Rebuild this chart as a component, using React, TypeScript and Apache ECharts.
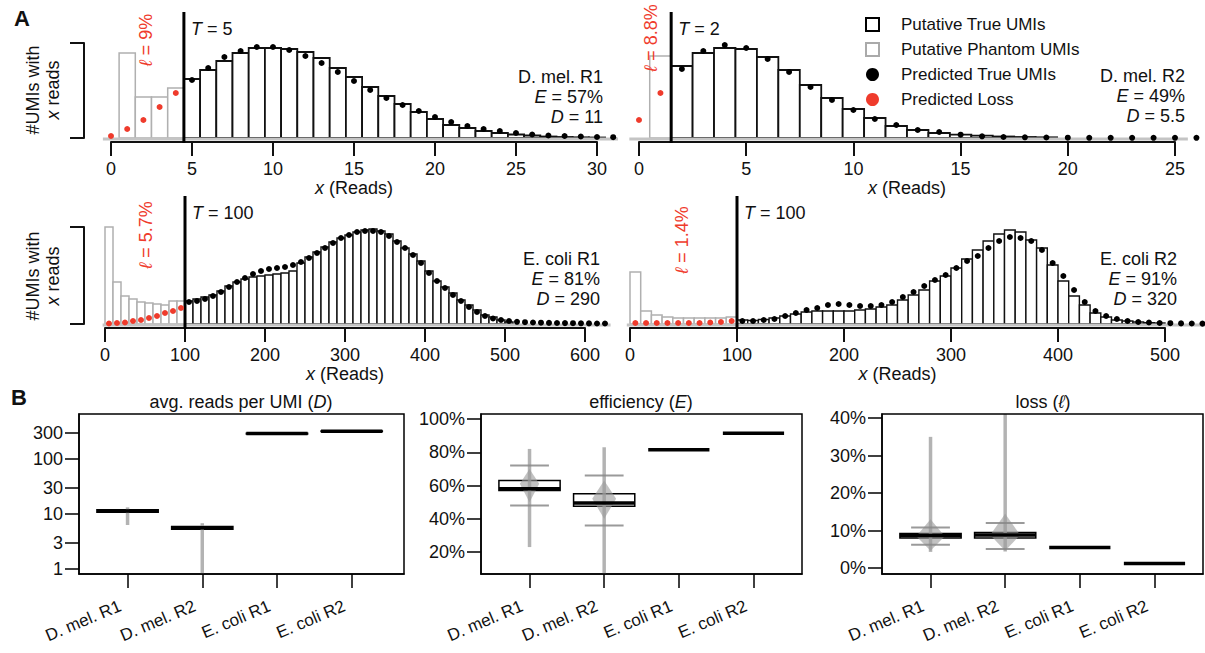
import React, { useEffect, useRef } from 'react';
import * as echarts from 'echarts';

const FONT = "'Liberation Sans', Arial, Helvetica, sans-serif";
const RED = '#ef3b2c';
const GREY = '#b0b0b0';
const INK = '#111111';
const WHISK = '#9a9a9a';

// ---------- Panel A1: D. mel. R1 ----------
const dm1TrueX = [5, 6, 7, 8, 9, 10, 11, 12, 13, 14, 15, 16, 17, 18, 19, 20, 21, 22, 23, 24, 25, 26, 27, 28, 29, 30];
const dm1TrueH = [59, 68, 77, 85, 90, 90, 89, 86, 80, 70, 61, 51, 42, 34, 26, 19, 13, 10, 7, 5, 3.5, 2.5, 1.5, 1, 0.7, 0.5];
const dm1PhantomX = [1, 2, 3, 4];
const dm1PhantomH = [85, 41, 41, 50];
const dm1LossX = [0, 1, 2, 3, 4];
const dm1LossH = [2, 9, 18, 31, 45];
const dm1PredX = [5, 6, 7, 8, 9, 10, 11, 12, 13, 14, 15, 16, 17, 18, 19, 20, 21, 22, 23, 24, 25, 26, 27, 28, 29, 30, 31];
const dm1PredH = [58, 70, 81, 87, 91, 91, 88, 82, 75, 66, 57, 48, 40, 33, 27, 21, 16, 12, 9, 7, 5, 3.5, 2.5, 2, 1.5, 1, 0.8];

// ---------- Panel A2: D. mel. R2 ----------
const dm2TrueX = [2, 3, 4, 5, 6, 7, 8, 9, 10, 11, 12, 13, 14, 15, 16, 17, 18, 19];
const dm2TrueH = [72, 85, 90, 89, 81, 68, 53, 40, 29, 20, 12, 8, 5, 3.3, 2.3, 1.5, 1, 0.7];
const dm2PhantomX = [1];
const dm2PhantomH = [82];
const dm2LossX = [0, 1];
const dm2LossH = [18, 45];
const dm2PredX = [2, 3, 4, 5, 6, 7, 8, 9, 10, 11, 12, 13, 14, 15, 16, 17, 18, 19, 20, 21, 22, 23, 24, 25, 26];
const dm2PredH = [69, 87, 93, 90, 79, 66, 51, 38, 28, 19, 13, 8, 6, 3.3, 1.7, 1, 0.7, 0.5, 0.3, 0.2, 0.2, 0.2, 0.2, 0.2, 0.2];

// ---------- Panel A3: E. coli R1 (bins of 10 reads, centres) ----------
const ec1PhantomX = [5, 15, 25, 35, 45, 55, 65, 75, 85, 95];
const ec1PhantomH = [150, 42, 28, 25, 22, 21, 20, 19, 23, 23];
const ec1LossX = [5, 15, 25, 35, 45, 55, 65, 75, 85, 95];
const ec1LossH = [0.5, 1, 1.5, 3, 4, 6, 8, 11, 13, 16];
const ec1TrueX = [105, 115, 125, 135, 145, 155, 165, 175, 185, 195, 205, 215, 225, 235, 245, 255, 265, 275, 285, 295, 305, 315, 325, 335, 345, 355, 365, 375, 385, 395, 405, 415, 425, 435, 445, 455, 465, 475, 485, 495, 505];
const ec1TrueH = [23, 25, 27, 29, 33, 38, 42, 45, 47, 48, 49, 50, 51, 53, 61, 67, 72, 77, 82, 86, 89, 92, 94, 95, 93, 90, 83, 76, 70, 63, 53, 43, 37, 31, 24, 19, 14, 9, 7, 4, 2];
const ec1PredX = [105, 115, 125, 135, 145, 155, 165, 175, 185, 195, 205, 215, 225, 235, 245, 255, 265, 275, 285, 295, 305, 315, 325, 335, 345, 355, 365, 375, 385, 395, 405, 415, 425, 435, 445, 455, 465, 475, 485, 495, 505, 515, 525, 535, 545, 555, 565, 575, 585, 595, 605, 615, 625];
const ec1PredH = [22, 23, 25, 28, 32, 37, 42, 46, 50, 53, 55, 56, 57, 59, 62, 66, 71, 76, 81, 86, 89, 92, 93, 93, 92, 88, 82, 76, 69, 61, 51, 43, 36, 29, 23, 17, 12, 8, 5.5, 4, 3, 2.2, 1.8, 1.5, 1.3, 1.1, 1, 0.9, 0.8, 0.7, 0.6, 0.5, 0.5];

// ---------- Panel A4: E. coli R2 ----------
const ec2PhantomX = [5, 15, 25, 35, 45, 55, 65, 75, 85, 95];
const ec2PhantomH = [52, 13, 9, 7, 6, 6, 6, 6, 6, 7];
const ec2LossX = [5, 15, 25, 35, 45, 55, 65, 75, 85, 95];
const ec2LossH = [1, 1, 1, 1, 1, 1, 1, 1.5, 2, 3];
const ec2TrueX = [105, 115, 125, 135, 145, 155, 165, 175, 185, 195, 205, 215, 225, 235, 245, 255, 265, 275, 285, 295, 305, 315, 325, 335, 345, 355, 365, 375, 385, 395, 405, 415, 425, 435, 445, 455, 465, 475, 485, 495];
const ec2TrueH = [4, 3.5, 4.5, 6, 8, 10, 12, 13, 13, 13, 13, 14, 15, 17, 19, 24, 29, 34, 43, 48, 56, 65, 74, 83, 90, 94, 92, 84, 76, 59, 43, 28, 19, 11, 7, 4, 3, 2, 1.3, 1];
const ec2PredX = [105, 115, 125, 135, 145, 155, 165, 175, 185, 195, 205, 215, 225, 235, 245, 255, 265, 275, 285, 295, 305, 315, 325, 335, 345, 355, 365, 375, 385, 395, 405, 415, 425, 435, 445, 455, 465, 475, 485, 495, 505, 515, 525, 535, 545];
const ec2PredH = [3, 3, 4, 5, 8, 11, 14, 16, 19, 20, 19, 18, 18, 19, 22, 27, 32, 38, 44, 49, 56, 63, 68, 76, 83, 87, 86, 83, 74, 61, 48, 34, 22, 13, 8, 5, 3, 2, 1.5, 1, 0.8, 0.6, 0.5, 0.4, 0.3];

// ---------- Panel B ----------
const boxCats = ['D. mel. R1', 'D. mel. R2', 'E. coli R1', 'E. coli R2'];
const dTickVals = [1, 3, 10, 30, 100, 300];
const eTickVals = [20, 40, 60, 80, 100];
const lTickVals = [0, 10, 20, 30, 40];

// avg reads per UMI (D)
const dMed = [11.3, 5.6, 290, 320];
const dQ1 = [10.7, 5.3, 286, 316];
const dQ3 = [12.0, 5.9, 294, 324];
const dLo = [6.3, 0.5, null, null];
const dHi = [13.2, 6.8, null, null];

// efficiency (E), %
const eMed = [58, 49.5, 81.5, 91.5];
const eQ1 = [57, 47.5, 81.5, 91.5];
const eQ3 = [63, 55, 81.5, 91.5];
const eCapLo = [48, 36, null, null];
const eCapHi = [72, 66, null, null];
const eLo = [23, 6, null, 90.7];
const eHi = [82, 83, null, 92.1];
const eVioLo = [50, 40, null, null];
const eVioPeak = [61, 52, null, null];
const eVioHi = [70, 63, null, null];
const eVioHalf = [0.13, 0.16, null, null];

// loss (l), %
const lMed = [8.7, 8.8, 5.5, 1.2];
const lQ1 = [8.0, 8.0, 5.5, 1.2];
const lQ3 = [9.2, 9.5, 5.5, 1.2];
const lCapLo = [6.2, 5.1, null, null];
const lCapHi = [10.8, 12.0, null, null];
const lLo = [4.3, 4.4, null, null];
const lHi = [35, 45, null, null];
const lVioLo = [4.6, 4.6, null, null];
const lVioPeak = [8.5, 8.8, null, null];
const lVioHi = [13, 14.5, null, null];
const lVioHalf = [0.19, 0.2, null, null];

const pairs = (xs: number[], ys: number[]) => xs.map((x, i) => [x, ys[i]]);

const panels = [
  {
    grid: { left: 111, top: 43, width: 486, height: 95 }, xMax: 30, xInterval: 5, yMax: 95, binW: 1, lw: 1.8,
    bracketOffset: 27, tLine: 4.5, tText: '5', baseline: [-0.5, 31.3],
    trueX: dm1TrueX, trueH: dm1TrueH, phX: dm1PhantomX, phH: dm1PhantomH,
    lossX: dm1LossX, lossH: dm1LossH, predX: dm1PredX, predH: dm1PredH,
  },
  {
    grid: { left: 639, top: 43, width: 536, height: 95 }, xMax: 25, xInterval: 5, yMax: 95, binW: 1, lw: 1.8,
    bracketOffset: null, tLine: 1.5, tText: '2', baseline: [-0.45, 25.6],
    trueX: dm2TrueX, trueH: dm2TrueH, phX: dm2PhantomX, phH: dm2PhantomH,
    lossX: dm2LossX, lossH: dm2LossH, predX: dm2PredX, predH: dm2PredH,
  },
  {
    grid: { left: 105, top: 227, width: 480, height: 97 }, xMax: 600, xInterval: 100, yMax: 97, binW: 10, lw: 1.4,
    bracketOffset: 21, tLine: 100, tText: '100', baseline: [-3, 632],
    trueX: ec1TrueX, trueH: ec1TrueH, phX: ec1PhantomX, phH: ec1PhantomH,
    lossX: ec1LossX, lossH: ec1LossH, predX: ec1PredX, predH: ec1PredH,
  },
  {
    grid: { left: 630, top: 227, width: 535, height: 97 }, xMax: 500, xInterval: 100, yMax: 97, binW: 10, lw: 1.4,
    bracketOffset: null, tLine: 100, tText: '100', baseline: [-3, 548],
    trueX: ec2TrueX, trueH: ec2TrueH, phX: ec2PhantomX, phH: ec2PhantomH,
    lossX: ec2LossX, lossH: ec2LossH, predX: ec2PredX, predH: ec2PredH,
  },
];

const italic = (color: string, size = 18) => ({ i: { fontStyle: 'italic', fontSize: size, fontFamily: FONT, fill: color, color } });

function barSeries(name: string, k: number, xs: number[], ys: number[], binW: number, stroke: string, lw: number, z: number) {
  return {
    type: 'custom', name, xAxisIndex: k, yAxisIndex: k, clip: false, silent: true, z,
    data: pairs(xs, ys),
    renderItem: (params: any, api: any) => {
      const x = api.value(0);
      const v = api.value(1);
      const bl = api.coord([x - binW / 2, 0]);
      const tr = api.coord([x + binW / 2, v]);
      const top = Math.max(tr[1], params.coordSys.y);
      return {
        type: 'rect',
        shape: { x: bl[0], y: top, width: tr[0] - bl[0], height: bl[1] - top },
        style: { fill: '#ffffff', stroke, lineWidth: lw },
      };
    },
  };
}

function buildOption() {
  const grid: any[] = [];
  const xAxis: any[] = [];
  const yAxis: any[] = [];
  const series: any[] = [];

  panels.forEach((p, k) => {
    grid.push({ ...p.grid, show: false });
    xAxis.push({
      type: 'value', gridIndex: k, min: 0, max: p.xMax, interval: p.xInterval, offset: 4,
      axisLine: { show: true, onZero: false, lineStyle: { color: INK, width: 2 } },
      axisTick: { show: true, length: 14, lineStyle: { color: INK, width: 2 } },
      axisLabel: { show: true, margin: 18, fontSize: 18, fontFamily: FONT, color: INK },
      splitLine: { show: false },
      name: '{i|x} (Reads)', nameLocation: 'middle', nameGap: 35,
      nameTextStyle: { fontSize: 18, fontFamily: FONT, color: INK, rich: italic(INK) },
    });
    if (p.bracketOffset != null) {
      yAxis.push({
        type: 'value', gridIndex: k, min: 0, max: p.yMax, offset: p.bracketOffset,
        axisLine: { show: true, onZero: false, lineStyle: { color: INK, width: 2 } },
        axisTick: { show: true, length: 14, customValues: [0, p.yMax], lineStyle: { color: INK, width: 2 } },
        axisLabel: { show: false }, splitLine: { show: false },
      });
    } else {
      yAxis.push({ type: 'value', gridIndex: k, min: 0, max: p.yMax, show: false, splitLine: { show: false } });
    }

    series.push(barSeries('Putative Phantom UMIs', k, p.phX, p.phH, p.binW, GREY, 1.5, 2));
    series.push(barSeries('Putative True UMIs', k, p.trueX, p.trueH, p.binW, INK, p.lw, 2));
    // grey ground line
    series.push({
      type: 'custom', xAxisIndex: k, yAxisIndex: k, clip: false, silent: true, z: 3,
      data: [p.baseline],
      renderItem: (params: any, api: any) => {
        const a = api.coord([api.value(0), 0]);
        const b = api.coord([api.value(1), 0]);
        return { type: 'line', shape: { x1: a[0], y1: a[1] + 1, x2: b[0], y2: b[1] + 1 }, style: { stroke: '#c4c4c4', lineWidth: 3 } };
      },
    });
    // threshold line T
    series.push({
      type: 'custom', xAxisIndex: k, yAxisIndex: k, clip: false, silent: true, z: 4,
      data: [[p.tLine, 0]],
      renderItem: (params: any, api: any) => {
        const a = api.coord([api.value(0), 0]);
        const top = params.coordSys.y - 31;
        return {
          type: 'group',
          children: [
            { type: 'line', shape: { x1: a[0], y1: a[1] + 5, x2: a[0], y2: top }, style: { stroke: '#000', lineWidth: 3 } },
            {
              type: 'text', x: a[0] + 7, y: params.coordSys.y - 14,
              style: { text: '{i|T} = ' + p.tText, rich: italic(INK), fontSize: 18, fontFamily: FONT, fill: INK, align: 'left', verticalAlign: 'middle' },
            },
          ],
        };
      },
    });
    series.push({
      type: 'scatter', name: 'Predicted True UMIs', xAxisIndex: k, yAxisIndex: k, clip: false, silent: true, z: 5,
      data: pairs(p.predX, p.predH), symbolSize: 6, itemStyle: { color: '#000', opacity: 1 },
    });
    series.push({
      type: 'scatter', name: 'Predicted Loss', xAxisIndex: k, yAxisIndex: k, clip: false, silent: true, z: 5,
      data: pairs(p.lossX, p.lossH), symbolSize: 6, itemStyle: { color: RED, opacity: 1 },
    });
  });

  // ---------- box plots ----------
  const log10 = (v: number) => Math.log10(v);
  const ident = (v: number) => v;
  const boxes = [
    {
      grid: { left: 79, top: 414, width: 325, height: 160 }, xMax: 4.7,
      yMin: Math.log10(0.81), yMax: Math.log10(658), ticks: dTickVals.map(log10),
      fmt: (v: number) => String(Math.round(Math.pow(10, v))), f: log10,
      med: dMed, q1: dQ1, q3: dQ3, capLo: null as any, capHi: null as any, lo: dLo, hi: dHi,
      vLo: null as any, vPeak: null as any, vHi: null as any, vHalf: null as any,
    },
    {
      grid: { left: 481, top: 414, width: 321, height: 160 }, xMax: 4.65,
      yMin: 6.8, yMax: 103, ticks: eTickVals, fmt: (v: number) => v + '%', f: ident,
      med: eMed, q1: eQ1, q3: eQ3, capLo: eCapLo, capHi: eCapHi, lo: eLo, hi: eHi,
      vLo: eVioLo, vPeak: eVioPeak, vHi: eVioHi, vHalf: eVioHalf,
    },
    {
      grid: { left: 882, top: 414, width: 321, height: 160 }, xMax: 4.65,
      yMin: -1.6, yMax: 41.1, ticks: lTickVals, fmt: (v: number) => v + '%', f: ident,
      med: lMed, q1: lQ1, q3: lQ3, capLo: lCapLo, capHi: lCapHi, lo: lLo, hi: lHi,
      vLo: lVioLo, vPeak: lVioPeak, vHi: lVioHi, vHalf: lVioHalf,
    },
  ];

  const frames: any[] = [];
  boxes.forEach((b, j) => {
    const k = panels.length + j;
    grid.push({ ...b.grid, show: false });
    frames.push({
      type: 'rect', silent: true, z: 8,
      shape: { x: b.grid.left, y: b.grid.top, width: b.grid.width, height: b.grid.height },
      style: { fill: 'none', stroke: '#000', lineWidth: 1.5 },
    });
    xAxis.push({
      type: 'value', gridIndex: k, min: 0.35, max: b.xMax,
      axisLine: { show: true, onZero: false, lineStyle: { color: '#000', width: 1.5 } },
      axisTick: { show: true, length: 14, customValues: [1, 2, 3, 4], lineStyle: { color: '#000', width: 1.5 } },
      axisLabel: {
        show: true, customValues: [1, 2, 3, 4], rotate: 23, margin: 28, fontSize: 17, fontFamily: FONT, color: INK,
        padding: [0, 8, 0, 0],
        formatter: (v: number) => boxCats[Math.round(v) - 1] ?? '',
      },
      splitLine: { show: false },
    });
    yAxis.push({
      type: 'value', gridIndex: k, min: b.yMin, max: b.yMax,
      axisLine: { show: true, onZero: false, lineStyle: { color: '#000', width: 1.5 } },
      axisTick: { show: true, length: 14, customValues: b.ticks, lineStyle: { color: '#000', width: 1.5 } },
      axisLabel: { show: true, customValues: b.ticks, margin: 16, fontSize: 18, fontFamily: FONT, color: INK, formatter: b.fmt },
      splitLine: { show: false },
    });
    series.push({
      type: 'custom', xAxisIndex: k, yAxisIndex: k, clip: true, silent: true, z: 3,
      data: boxCats.map((_, i) => [i + 1, b.f(b.med[i])]),
      renderItem: (params: any, api: any) => {
        const i = params.dataIndex;
        const x = api.value(0);
        const P = (dx: number, v: number) => api.coord([x + dx, b.f(v)]);
        const hw = 0.41;
        const kids: any[] = [];
        if (b.q1[i] !== b.q3[i]) {
          const a = P(-hw, b.q3[i]);
          const c = P(hw, b.q1[i]);
          kids.push({ type: 'rect', shape: { x: a[0], y: a[1], width: c[0] - a[0], height: c[1] - a[1] }, style: { fill: '#fff', stroke: '#000', lineWidth: 1.5 } });
        }
        if (b.lo[i] != null) {
          const a = P(0, b.hi[i]);
          const c = P(0, b.lo[i]);
          kids.push({ type: 'line', shape: { x1: a[0], y1: a[1], x2: c[0], y2: c[1] }, style: { stroke: WHISK, lineWidth: 3.5, opacity: 0.75 } });
        }
        if (b.vLo && b.vLo[i] != null) {
          const t = P(0, b.vHi[i]);
          const bt = P(0, b.vLo[i]);
          const l = P(-b.vHalf[i], b.vPeak[i]);
          const r = P(b.vHalf[i], b.vPeak[i]);
          kids.push({ type: 'polygon', shape: { points: [t, r, bt, l] }, style: { fill: WHISK, opacity: 0.6 } });
        }
        if (b.capLo && b.capLo[i] != null) {
          [b.capLo[i], b.capHi[i]].forEach((cv: number) => {
            const a = P(-0.26, cv);
            const c = P(0.26, cv);
            kids.push({ type: 'line', shape: { x1: a[0], y1: a[1], x2: c[0], y2: c[1] }, style: { stroke: '#888', lineWidth: 2, opacity: 0.85 } });
          });
        }
        const m0 = P(-hw, b.med[i]);
        const m1 = P(hw, b.med[i]);
        kids.push({ type: 'line', shape: { x1: m0[0], y1: m0[1], x2: m1[0], y2: m1[1] }, style: { stroke: '#000', lineWidth: 3.5 } });
        return { type: 'group', children: kids };
      },
    });
  });

  const T = (x: number, y: number, text: string, extra: any = {}) => ({
    type: 'text', x, y, silent: true, z: 10,
    style: { text, fontSize: 18, fontFamily: FONT, fill: INK, align: 'left', verticalAlign: 'middle', rich: italic(INK), ...extra },
  });
  const redRich = italic(RED);

  const graphic: any[] = [
    ...frames,
    T(22, 18, 'A', { fontWeight: 'bold', fontSize: 22, align: 'center' }),
    T(19, 397, 'B', { fontWeight: 'bold', fontSize: 22, align: 'center' }),
    { ...T(43, 90, '#UMIs with\n{i|x} reads', { align: 'center', lineHeight: 20 }), rotation: Math.PI / 2 },
    { ...T(43, 276, '#UMIs with\n{i|x} reads', { align: 'center', lineHeight: 20 }), rotation: Math.PI / 2 },
    // red loss labels
    { ...T(146, 40, '{i|ℓ} = 9%', { align: 'center', fill: RED, rich: redRich }), rotation: Math.PI / 2 },
    { ...T(651, 38, '{i|ℓ} = 8.8%', { align: 'center', fill: RED, rich: redRich }), rotation: Math.PI / 2 },
    { ...T(146, 235, '{i|ℓ} = 5.7%', { align: 'center', fill: RED, rich: redRich }), rotation: Math.PI / 2 },
    { ...T(682, 240, '{i|ℓ} = 1.4%', { align: 'center', fill: RED, rich: redRich }), rotation: Math.PI / 2 },
    // sample annotations
    T(603, 77, 'D. mel. R1', { align: 'right' }),
    T(603, 97, '{i|E} = 57%', { align: 'right' }),
    T(603, 117, '{i|D} = 11', { align: 'right' }),
    T(1185, 76, 'D. mel. R2', { align: 'right' }),
    T(1185, 96, '{i|E} = 49%', { align: 'right' }),
    T(1185, 116, '{i|D} = 5.5', { align: 'right' }),
    T(600, 259, 'E. coli R1', { align: 'right' }),
    T(600, 279, '{i|E} = 81%', { align: 'right' }),
    T(600, 299, '{i|D} = 290', { align: 'right' }),
    T(1177, 259, 'E. coli R2', { align: 'right' }),
    T(1177, 279, '{i|E} = 91%', { align: 'right' }),
    T(1177, 299, '{i|D} = 320', { align: 'right' }),
    // box titles
    T(241, 402, 'avg. reads per UMI ({i|D})', { align: 'center' }),
    T(641, 402, 'efficiency ({i|E})', { align: 'center' }),
    T(1043, 402, 'loss ({i|ℓ})', { align: 'center' }),
  ];

  return {
    animation: false,
    backgroundColor: '#ffffff',
    textStyle: { fontFamily: FONT },
    legend: {
      left: 860, top: 11, orient: 'vertical', itemWidth: 13, itemHeight: 13, itemGap: 8, selectedMode: false,
      textStyle: { fontSize: 17, fontFamily: FONT, color: INK, padding: [0, 0, 0, 17] },
      data: [
        { name: 'Putative True UMIs', icon: 'rect', itemStyle: { color: '#fff', borderColor: '#000', borderWidth: 2 } },
        { name: 'Putative Phantom UMIs', icon: 'rect', itemStyle: { color: '#fff', borderColor: '#aaa', borderWidth: 2 } },
        { name: 'Predicted True UMIs', icon: 'circle', itemStyle: { color: '#000', borderWidth: 0, opacity: 1 } },
        { name: 'Predicted Loss', icon: 'circle', itemStyle: { color: RED, borderWidth: 0, opacity: 1 } },
      ],
    },
    grid, xAxis, yAxis, series, graphic,
  };
}

export default function App() {
  const ref = useRef<HTMLDivElement>(null);
  useEffect(() => {
    if (!ref.current) return;
    const chart = echarts.init(ref.current, null, { renderer: 'svg' });
    chart.setOption(buildOption() as any);
    return () => chart.dispose();
  }, []);
  return (
    <div
      ref={ref}
      style={{ position: 'fixed', left: 0, top: 0, width: 1205, height: 653, background: '#fff' }}
    />
  );
}
